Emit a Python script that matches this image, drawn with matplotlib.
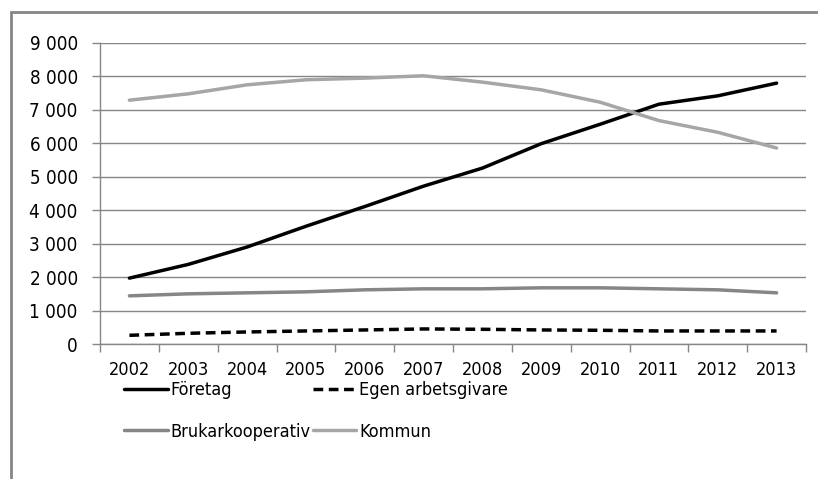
import matplotlib
matplotlib.use("Agg")
import matplotlib.pyplot as plt
from matplotlib.ticker import FuncFormatter, FixedLocator
from matplotlib.patches import Rectangle
import numpy as np

years = ["2002", "2003", "2004", "2005", "2006", "2007", "2008", "2009", "2010", "2011", "2012", "2013"]
foretag = [1970, 2380, 2900, 3520, 4110, 4720, 5260, 5990, 6570, 7170, 7420, 7800]
egen = [260, 320, 360, 390, 420, 450, 440, 420, 410, 390, 390, 390]
bruk = [1440, 1500, 1530, 1560, 1620, 1650, 1650, 1680, 1680, 1650, 1620, 1530]
kommun = [7290, 7480, 7750, 7900, 7950, 8020, 7830, 7600, 7230, 6680, 6330, 5860]

plt.rcParams['font.family'] = ['DejaVu Sans']
plt.rcParams['font.stretch'] = 'condensed'

W, H = 818, 479
fig = plt.figure(figsize=(W / 100, H / 100), dpi=100)
ax = fig.add_axes([100 / W, 1 - 344 / H, (806 - 100) / W, (344 - 43) / H])

x = np.arange(len(years))
lw = 2.5
l1, = ax.plot(x, foretag, color='black', lw=lw, label='Företag', solid_capstyle='round')
l2, = ax.plot(x, egen, color='black', lw=lw, ls=(0, (2.8, 1.6)), label='Egen arbetsgivare')
l3, = ax.plot(x, bruk, color='#868686', lw=lw, label='Brukarkooperativ', solid_capstyle='round')
l4, = ax.plot(x, kommun, color='#a6a6a6', lw=lw, label='Kommun', solid_capstyle='round')

ax.set_xlim(-0.5, len(years) - 0.5)
ax.set_ylim(0, 9000)
ax.set_yticks(np.arange(0, 9001, 1000))
ax.yaxis.set_major_formatter(FuncFormatter(lambda v, p: f"{int(v):,}".replace(",", " ")))
ax.set_xticks(x)
ax.set_xticklabels(years)
ax.xaxis.set_minor_locator(FixedLocator(np.arange(-0.5, len(years), 1)))
ax.tick_params(axis='x', which='major', length=0, pad=12, labelsize=13)
ax.tick_params(axis='x', which='minor', length=6, color='#868686', width=1)
ax.tick_params(axis='y', length=6, color='#868686', width=1, pad=10, labelsize=13.5)
ax.grid(axis='y', color='#868686', lw=1)
ax.set_axisbelow(True)
for s in ['top', 'right']:
    ax.spines[s].set_visible(False)
for s in ['left', 'bottom']:
    ax.spines[s].set_color('#868686')
    ax.spines[s].set_linewidth(1)

fig.legend(handles=[l1, l3, l2, l4], loc='upper left', bbox_to_anchor=(108 / W, 1 - 365 / H),
           ncol=2, frameon=False, fontsize=13, handlelength=2.4, handletextpad=0.15,
           columnspacing=0.15, labelspacing=1.3)

fig.patches.append(Rectangle((11 / W, -0.1), 1.2, 1 - 12 / H + 0.1, transform=fig.transFigure,
                             fill=False, edgecolor='#868686', lw=2))

fig.savefig('out.png', dpi=100)
